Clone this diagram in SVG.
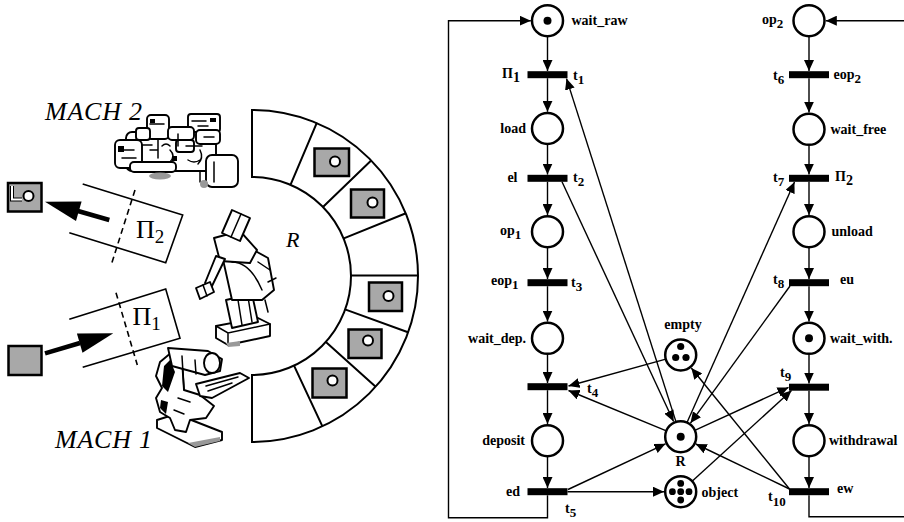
<svg xmlns="http://www.w3.org/2000/svg" width="904" height="522" viewBox="0 0 904 522">
<style>
  .ring { fill: none; stroke: #000; stroke-width: 2; }
  .conv { fill: none; stroke: #000; stroke-width: 1.6; }
  .dash { stroke-dasharray: 6 4; }
  .part { fill: #a8a8a8; stroke: #000; stroke-width: 2.5; }
  .hole { fill: #fff; stroke: #000; stroke-width: 2; }
  .sk { fill: #fff; stroke: #000; stroke-width: 1.9; stroke-linejoin: round; }
  .skl { fill: none; stroke: #000; stroke-width: 1.5; stroke-linecap: round; }
  .gry { fill: #999; }
  .it { font-family: "Liberation Serif", serif; font-style: italic; fill: #000; }
  .gk { font-family: "Liberation Serif", serif; fill: #000; }
  .pl { fill: #fff; stroke: #000; stroke-width: 2.5; }
  .tok { fill: #000; }
  .tr { fill: #000; }
  .arc { fill: none; stroke: #000; stroke-width: 1.4; marker-end: url(#ah); }
  .lb { font-family: "Liberation Serif", "Times New Roman", serif; font-size: 14px; font-weight: bold; fill: #000; }
</style>
<defs>
  <marker id="ah" markerUnits="userSpaceOnUse" markerWidth="12" markerHeight="10" refX="11" refY="5" orient="auto">
    <path d="M0,0 L11,5 L0,10 z" fill="#000"/>
  </marker>
</defs>
<rect width="904" height="522" fill="#fff"/>

<!-- ===== Work cell layout ===== -->
<g id="storage-ring">
  <path class="ring" d="M252,110 A166,166 0 0 1 252,442 L252,375 A99,99 0 0 0 252,177 Z"/>
  <path class="ring" d="M290.7,184.4 L316.9,122.7 M323.2,206.7 L371.4,160.2 M343.8,238.4 L405.9,213.3 M351,275.5 L418,275.5 M345,309.4 L408,332.3 M325.6,341.7 L375.4,386.6 M293.8,365.2 L322.2,425.9"/>
  <rect class="part" x="314.5" y="148.5" width="34.5" height="27.5"/>
  <circle class="hole" cx="335" cy="161.5" r="5"/>
  <rect class="part" x="351" y="189.5" width="33" height="28"/>
  <circle class="hole" cx="372.5" cy="202.5" r="5"/>
  <rect class="part" x="369" y="282.5" width="33" height="28.5"/>
  <circle class="hole" cx="388.5" cy="296" r="5"/>
  <rect class="part" x="348.5" y="329.5" width="33" height="28.5"/>
  <circle class="hole" cx="368" cy="340.5" r="5"/>
  <rect class="part" x="312.5" y="368.5" width="34" height="29"/>
  <circle class="hole" cx="332.5" cy="380.5" r="5"/>
</g>

<g id="conveyor-out">
  <polyline class="conv" points="82.7,184 182.7,215 165.7,262.7 69.3,232.7"/>
  <line class="conv dash" x1="135" y1="190" x2="111.7" y2="263.3"/>
  <text class="gk" x="136" y="238" font-size="26">Π<tspan font-size="19" dy="5">2</tspan></text>
  <line x1="109.3" y1="220" x2="78" y2="211" stroke="#000" stroke-width="4.5"/>
  <polygon points="45,201.7 81.6,201.6 76,221" fill="#000"/>
  <rect class="part" x="8" y="183" width="33.5" height="28.5"/>
  <path d="M12,186 L12,199.5 L22,199.5" fill="none" stroke="#000" stroke-width="4"/>
  <path d="M12,186 L12,199.5 L22,199.5" fill="none" stroke="#fff" stroke-width="2"/>
  <circle class="hole" cx="28.5" cy="196" r="5"/>
</g>

<g id="conveyor-in">
  <polyline class="conv" points="69.3,319.3 165.7,289 180,338.3 82.7,367.3"/>
  <line class="conv dash" x1="116" y1="292.7" x2="137.3" y2="365"/>
  <text class="gk" x="132.5" y="325" font-size="26">Π<tspan font-size="19" dy="5">1</tspan></text>
  <line x1="45" y1="353.3" x2="80" y2="343" stroke="#000" stroke-width="4.5"/>
  <polygon points="113.3,333.3 82.5,352.7 76.9,333.5" fill="#000"/>
  <rect class="part" x="8.5" y="346" width="33" height="29"/>
</g>

<g id="mach2">
  <rect class="sk" x="126" y="132" width="90" height="39" rx="6"/>
  <rect class="sk" x="147" y="115" width="22" height="24" rx="4"/>
  <rect class="sk" x="188" y="114" width="32" height="18" rx="3"/>
  <rect class="sk" x="168" y="127" width="26" height="13" rx="4"/>
  <rect class="sk" x="115" y="140" width="27" height="28" rx="5"/>
  <rect class="sk" x="206" y="155" width="32" height="32" rx="6"/>
  <rect class="sk" x="130" y="162" width="46" height="10" rx="4"/>
  <rect class="sk" x="196" y="130" width="24" height="14" rx="4"/>
  <rect class="sk" x="136" y="128" width="14" height="12" rx="3"/>
  <rect class="sk" x="176" y="140" width="18" height="12" rx="3"/>
  <path class="skl" d="M192,121 h14 M198,126 h10 M150,124 h14 M124,150 h10 M122,158 h14 M178,134 v12 M158,140 v18 M186,146 h16 M142,145 h10 M200,150 q4,8 -2,14 M214,162 v20 M170,150 q6,6 0,12 M150,150 h8 M162,146 q4,-4 8,0 M188,160 q6,4 12,0 M200,172 v10 M128,140 h8 M204,137 h10"/>
  <path d="M118,146 h6 v6 h-6 z M150,119 h5 v4 h-5 z M210,118 h6 v4 h-6 z M172,156 h5 v5 h-5 z" fill="#000"/>
  <ellipse class="gry" cx="160" cy="176" rx="11" ry="3.5"/>
  <ellipse class="gry" cx="204" cy="184" rx="4" ry="4"/>
  <text class="it" x="45" y="120" font-size="26" textLength="97">MACH 2</text>
</g>

<g id="robot">
  <polygon class="sk" points="216,326 258,318 270,324 270,336 228,345 216,338"/>
  <path class="skl" d="M216,326 L228,333 L270,324 M228,333 V345"/>
  <polygon class="gry" points="226,343 240,341 240,346 228,347"/>
  <polygon class="sk" points="226,300 252,294 258,322 232,328"/>
  <path class="skl" d="M238,300 L242,325 M248,297 L252,322"/>
  <path class="sk" d="M222,255 L250,248 L268,258 L274,290 L262,300 L232,300 Z"/>
  <path class="skl" d="M232,262 Q250,262 262,290 M258,262 L270,270 M268,282 L276,278 M265,300 L268,312"/>
  <polygon class="sk" points="214,238 240,231 257,250 250,263 220,261"/>
  <polygon class="sk" points="232,210 250,218 240,241 222,233"/>
  <path class="skl" d="M241,214 L231,237"/>
  <polygon class="sk" points="216,256 225,259 212,286 205,283"/>
  <polygon class="sk" points="196,288 210,282 214,292 200,299"/>
  <path class="skl" d="M203,285 L207,296"/>
  <text class="it" x="286" y="247" font-size="22">R</text>
</g>

<g id="mach1">
  <polygon class="sk" points="157,420 176,414 222,432 222,440 195,447 157,428"/>
  <polygon class="gry" points="188,443 220,437 220,441 195,447"/>
  <path class="sk" d="M160,362 L172,352 L182,360 L184,390 L200,395 L214,406 L206,418 L190,420 L186,432 L175,430 L170,418 L160,412 L156,398 L162,388 L156,376 Z"/>
  <path d="M164,366 L170,360 L175,372 L168,392 L162,386 Z M161,400 L168,402 L166,414 L160,408 Z" fill="#000"/>
  <polygon class="sk" points="168,348 208,351 222,359 220,371 205,375 172,366"/>
  <ellipse class="sk" cx="212" cy="363" rx="8" ry="10"/>
  <path class="skl" d="M182,356 L184,390 M195,360 L196,374"/>
  <polygon class="sk" points="196,384 240,373 249,378 212,398 200,396"/>
  <path class="skl" d="M206,386 L238,377 M208,391 L232,383 M178,398 L190,402 M174,410 L184,414"/>
  <text class="it" x="55" y="448" font-size="26" textLength="97">MACH 1</text>
</g>

<!-- ===== Petri net ===== -->
<g id="connectors">
  <!-- left cycle -->
  <path class="arc" d="M547.5,36.5 V71"/>
  <path class="arc" d="M547.5,78.2 V111.8"/>
  <path class="arc" d="M547.5,144.8 V174.6"/>
  <path class="arc" d="M547.5,181.8 V215"/>
  <path class="arc" d="M547.5,248 V279"/>
  <path class="arc" d="M547.5,286.2 V321.6"/>
  <path class="arc" d="M547.5,354.6 V383"/>
  <path class="arc" d="M547.5,390.2 V424"/>
  <path class="arc" d="M547.5,457 V488"/>
  <path class="arc" d="M547.5,495.2 V517.7 H448.5 V20.7 H530.8"/>
  <!-- right cycle -->
  <path class="arc" d="M910,20.7 H825.8"/>
  <path class="arc" d="M809,36.5 V71"/>
  <path class="arc" d="M809,78.2 V112.6"/>
  <path class="arc" d="M809,145.6 V174.6"/>
  <path class="arc" d="M809,181.8 V215"/>
  <path class="arc" d="M809,248 V279"/>
  <path class="arc" d="M809,286.2 V321.6"/>
  <path class="arc" d="M809,354.6 V383.5"/>
  <path class="arc" d="M809,390.8 V424"/>
  <path class="arc" d="M809,457 V488"/>
  <path d="M809,495.2 V516.7 H910" fill="none" stroke="#000" stroke-width="1.4"/>
  <!-- robot and buffer arcs -->
  <path class="arc" d="M676,421.9 L566.5,78.6"/>
  <path class="arc" d="M562,181.8 L673.6,421.5"/>
  <path class="arc" d="M687,422.5 L794.5,182"/>
  <path class="arc" d="M790,286 L690.5,423.1"/>
  <path class="arc" d="M665.8,359.1 L568.5,386"/>
  <path class="arc" d="M666.4,430.8 L568.5,390.5"/>
  <path class="arc" d="M568,489.5 L665.5,443.8"/>
  <path class="arc" d="M567.5,491.7 L664,491.7"/>
  <path class="arc" d="M694.8,430.3 L788.5,387.4"/>
  <path class="arc" d="M692.1,481.2 L791.5,390.6"/>
  <path class="arc" d="M789.5,489 L695.8,444"/>
  <path class="arc" d="M789.5,489 L691.3,368"/>
</g>

<g id="p-wait_raw"><circle class="pl" cx="547.5" cy="20.7" r="15.5"/><circle class="tok" cx="547.5" cy="20.7" r="4"/><text class="lb" x="571.5" y="25">wait_raw</text></g>
<g id="t1"><rect class="tr" x="527.5" y="71.2" width="40" height="7"/><text class="lb" x="502" y="78" font-size="18">Π<tspan font-size="14" dy="4">1</tspan></text><text class="lb" x="573" y="80">t<tspan font-size="13" dy="4">1</tspan></text></g>
<g id="p-load"><circle class="pl" cx="547.5" cy="128.5" r="15.5"/><text class="lb" x="526" y="133" text-anchor="end">load</text></g>
<g id="t2"><rect class="tr" x="527.5" y="174.8" width="40" height="7"/><text class="lb" x="517.5" y="182" text-anchor="end">el</text><text class="lb" x="573" y="182">t<tspan font-size="13" dy="4">2</tspan></text></g>
<g id="p-op1"><circle class="pl" cx="547.5" cy="231.7" r="15.5"/><text class="lb" x="500" y="235">op<tspan font-size="13" dy="4">1</tspan></text></g>
<g id="t3"><rect class="tr" x="527.5" y="279.2" width="40" height="7"/><text class="lb" x="491" y="285">eop<tspan font-size="13" dy="4">1</tspan></text><text class="lb" x="571" y="287">t<tspan font-size="13" dy="4">3</tspan></text></g>
<g id="p-wait_dep"><circle class="pl" cx="547.5" cy="338.3" r="15.5"/><text class="lb" x="526" y="343" text-anchor="end">wait_dep.</text></g>
<g id="t4"><rect class="tr" x="527.5" y="383.2" width="40" height="7"/><text class="lb" x="587" y="393">t<tspan font-size="13" dy="4">4</tspan></text></g>
<g id="p-deposit"><circle class="pl" cx="547.5" cy="440.7" r="15.5"/><text class="lb" x="525" y="445" text-anchor="end">deposit</text></g>
<g id="t5"><rect class="tr" x="527.5" y="488.2" width="40" height="7"/><text class="lb" x="520" y="496" text-anchor="end">ed</text><text class="lb" x="565" y="513">t<tspan font-size="13" dy="4">5</tspan></text></g>

<g id="p-op2"><circle class="pl" cx="809" cy="20.7" r="15.5"/><text class="lb" x="762" y="24">op<tspan font-size="13" dy="4">2</tspan></text></g>
<g id="t6"><rect class="tr" x="789" y="71.2" width="40" height="7"/><text class="lb" x="773" y="80">t<tspan font-size="13" dy="4">6</tspan></text><text class="lb" x="833.5" y="79">eop<tspan font-size="13" dy="4">2</tspan></text></g>
<g id="p-wait_free"><circle class="pl" cx="809" cy="129.3" r="15.5"/><text class="lb" x="830.5" y="134">wait_free</text></g>
<g id="t7"><rect class="tr" x="789" y="174.8" width="40" height="7"/><text class="lb" x="773" y="182">t<tspan font-size="13" dy="4">7</tspan></text><text class="lb" x="835" y="181" font-size="18">Π<tspan font-size="14" dy="4">2</tspan></text></g>
<g id="p-unload"><circle class="pl" cx="809" cy="231.7" r="15.5"/><text class="lb" x="831.5" y="236">unload</text></g>
<g id="t8"><rect class="tr" x="789" y="279.2" width="40" height="7"/><text class="lb" x="773" y="283.5">t<tspan font-size="13" dy="4">8</tspan></text><text class="lb" x="840" y="284">eu</text></g>
<g id="p-wait_with"><circle class="pl" cx="809" cy="338.3" r="15.5"/><circle class="tok" cx="809" cy="338.3" r="4"/><text class="lb" x="830" y="343">wait_with.</text></g>
<g id="t9"><rect class="tr" x="789" y="383.7" width="40" height="7"/><text class="lb" x="780" y="377">t<tspan font-size="13" dy="4">9</tspan></text></g>
<g id="p-withdrawal"><circle class="pl" cx="809" cy="440.7" r="15.5"/><text class="lb" x="829" y="445">withdrawal</text></g>
<g id="t10"><rect class="tr" x="789" y="488.2" width="40" height="7"/><text class="lb" x="768" y="501">t<tspan font-size="13" dy="5">10</tspan></text><text class="lb" x="837" y="493">ew</text></g>

<g id="p-empty"><circle class="pl" cx="680.7" cy="355" r="15.5"/><circle class="tok" cx="680.7" cy="346.5" r="3.6"/><circle class="tok" cx="675.7" cy="357.5" r="3.6"/><circle class="tok" cx="686" cy="357.5" r="3.6"/><text class="lb" x="683" y="329" text-anchor="middle">empty</text></g>
<g id="p-R"><circle class="pl" cx="680.7" cy="436.7" r="15.5"/><circle class="tok" cx="680.7" cy="436.7" r="4"/><text class="lb" x="680.5" y="466" text-anchor="middle">R</text></g>
<g id="p-object"><circle class="pl" cx="680.7" cy="491.7" r="15.5"/><circle class="tok" cx="680.7" cy="491.7" r="3.4"/><circle class="tok" cx="680.7" cy="483.4" r="3.4"/><circle class="tok" cx="680.7" cy="500" r="3.4"/><circle class="tok" cx="672.4" cy="491.7" r="3.4"/><circle class="tok" cx="689" cy="491.7" r="3.4"/><text class="lb" x="701.5" y="497">object</text></g>
</svg>
